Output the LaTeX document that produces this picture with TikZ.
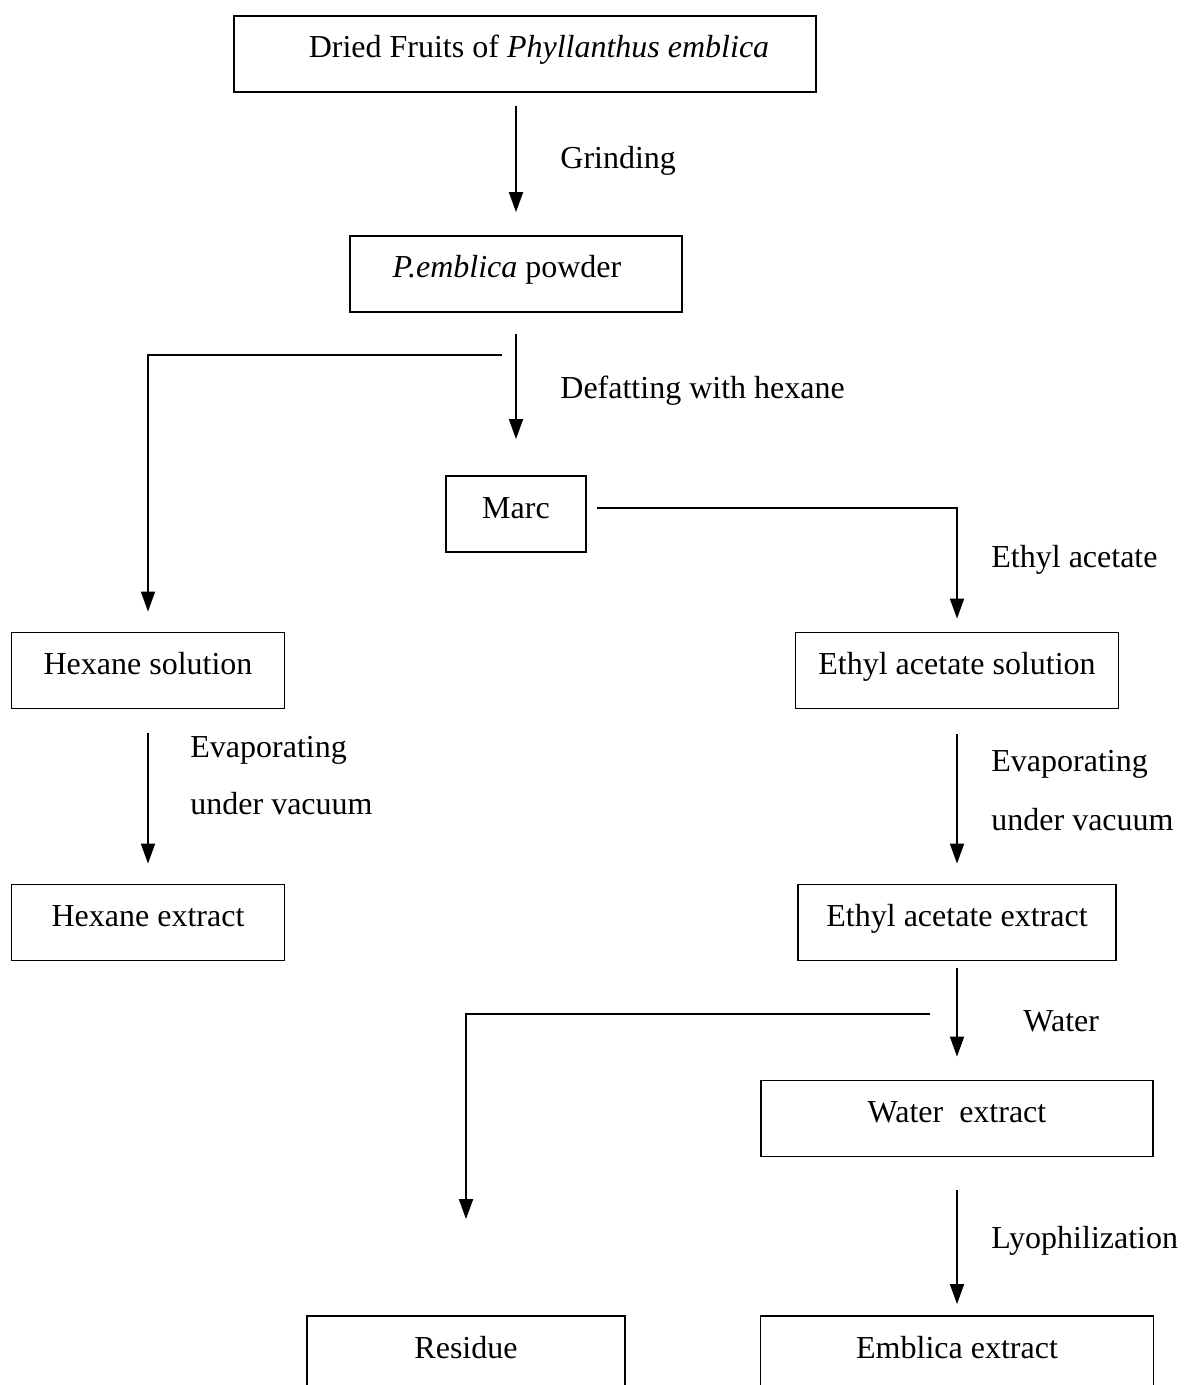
\documentclass[tikz,border=0pt]{standalone}
\usepackage{fontspec}
\setmainfont{Liberation Serif}
\usetikzlibrary{arrows.meta}

\tikzset{
	stage/.style={draw, line width=0.9pt, inner xsep=0pt, inner ysep=0pt, text height=21pt, text depth=17pt},
	flow/.style={line width=0.9pt, -{Triangle[width=7pt,length=10pt]}},
	tag/.style={anchor=west, inner sep=0pt}
}

\begin{document}
\begin{tikzpicture}[x=0.5pt, y=-0.5pt, font=\fontsize{16}{19}\selectfont]
			%%%%% START %%%%%
			\useasboundingbox (0, 0) rectangle (1183, 1385);
			\clip (0, 0) rectangle (1183, 1385);
			
			\node[stage, minimum width=291pt] (dried) at (525, 54) {\hspace*{14pt}Dried Fruits of \textit{Phyllanthus emblica}};
			\node[stage, minimum width=166pt] (powder) at (516, 274) {\textit{P.emblica} powder\hspace*{9pt}};
			\node[stage, minimum width=70pt] (marc) at (516, 514) {Marc};
			
			\node[stage, minimum width=136.5pt] (hexsol) at (148, 670.5) {Hexane solution};
			\node[stage, minimum width=136.5pt] (hexext) at (148, 922.5) {Hexane extract};
			
			\node[stage, minimum width=161.5pt] (easol) at (957, 670.5) {Ethyl acetate solution};
			\node[stage, minimum width=159pt] (eaext) at (957, 922.5) {Ethyl acetate extract};
			\node[stage, minimum width=196pt] (water) at (957, 1118.5) {Water~ extract};
			
			\node[stage, minimum width=159pt] (residue) at (466, 1354) {Residue};
			\node[stage, minimum width=196.5pt] (emblica) at (957, 1354) {Emblica extract};
			
			\coordinate (cut1) at (502, 355);
			\coordinate (cut2) at (930, 1014);
			
			\draw[flow, shorten <=6.5pt, shorten >=11.5pt] (dried.south -| powder) -- (powder);
			\draw[flow, shorten <=10.5pt, shorten >=18pt] (powder) -- (marc);
			\draw[flow, shorten >=10pt] (cut1) -| (hexsol);
			\draw[flow, shorten <=5pt, shorten >=6.5pt] ([yshift=3pt]marc.east) -| (easol);
			
			\draw[flow, shorten <=12pt, shorten >=10pt] (hexsol) -- (hexext);
			\draw[flow, shorten <=12.5pt, shorten >=10pt] (easol) -- (eaext);
			\draw[flow, shorten <=3.5pt, shorten >=11.5pt] (eaext) -- (water);
			\draw[flow, shorten >=48pt] (cut2) -| (residue);
			\draw[flow, shorten <=16.5pt, shorten >=5.5pt] (water) -- (emblica);
			
			\node[tag] (grind) at (560, 161) {Grinding};
			\node[tag] (defat) at (560, 391) {Defatting with hexane};
			\node[tag] (ethyl) at (991, 560) {Ethyl acetate};
			\node[tag] (evapL) at (190, 750) {Evaporating};
			\node[tag] (vacL) at (190, 804) {under vacuum};
			\node[tag] (evapR) at (991, 764) {Evaporating};
			\node[tag] (vacR) at (991, 820) {under vacuum};
			\node[tag] (wat) at (1023, 1021) {Water};
			\node[tag] (lyo) at (991, 1241) {Lyophilization};
			
			%%%%% END %%%%%
\end{tikzpicture}
\end{document}
